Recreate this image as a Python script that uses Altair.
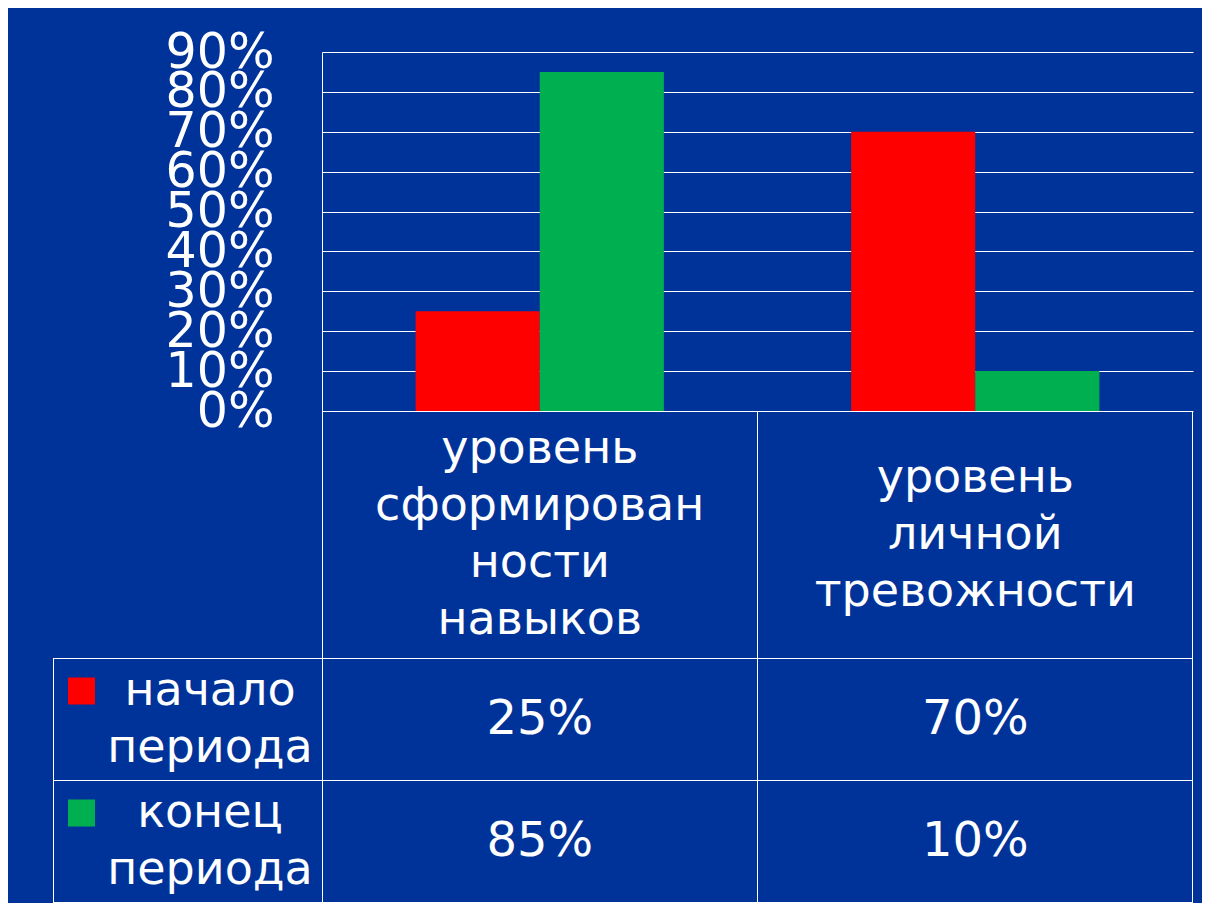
import altair as alt
import pandas as pd

# ---- data ----
categories = ["уровень сформированности навыков", "уровень личной тревожности"]
category_lines = ["уровень|сформирован|ности|навыков", "уровень|личной|тревожности"]
series = ["начало периода", "конец периода"]
start_values = [0.25, 0.70]
end_values = [0.85, 0.10]
y_ticks = [0.0, 0.1, 0.2, 0.3, 0.4, 0.5, 0.6, 0.7, 0.8, 0.9]
colors = ["#FF0000", "#00B050"]

rows = []
for i, cat in enumerate(categories):
    for s, vals in zip(series, [start_values, end_values]):
        rows.append({"cat": cat, "lines_str": category_lines[i], "series": s, "value": vals[i]})
df = pd.DataFrame(rows)

# ---- styles / layout (pixels relative to plot origin) ----
BG = "#003399"
FONT = "DejaVu Sans"
FS_AXIS = 49
FS_VAL = 48
FS_TXT = 46
LH = 57
W, H = 871, 359
LEFT_COL = -269
HEADER_BOTTOM = 606.5
ROW_LINES = [728.5, 850.5]
ROW_CENTERS = [667.5, 789.5]
BAND_STEP = W / 2.0

x_enc = alt.X("cat:N", sort=categories,
              scale=alt.Scale(paddingInner=0.43, paddingOuter=0.215), axis=None)
color_enc = alt.Color("series:N", sort=series,
                      scale=alt.Scale(domain=series, range=colors), legend=None)

base = alt.Chart(df)

bars = base.mark_bar().encode(
    x=x_enc,
    xOffset=alt.XOffset("series:N", sort=series,
                        scale=alt.Scale(paddingInner=0, paddingOuter=0)),
    y=alt.Y("value:Q",
            scale=alt.Scale(domain=[0, 0.9], nice=False, zero=True),
            axis=alt.Axis(values=y_ticks, format=".0%", title=None,
                          ticks=False, tickSize=0, labelPadding=48,
                          labelFont=FONT, labelFontSize=FS_AXIS, labelColor="white",
                          labelOverlap=False, labelFlush=False, labelBound=False,
                          domainColor="white", domainWidth=1,
                          gridColor="white", gridWidth=1, gridOpacity=1)),
    color=color_enc,
)

layers = [bars]

# category header texts (multi-line, block centred in the header cell)
header_center = (H + HEADER_BOTTOM) / 2
for i, cat in enumerate(categories):
    n_lines = len(category_lines[i].split("|"))
    layers.append(
        base.transform_filter((alt.datum.series == series[0]) & (alt.datum.cat == cat))
        .transform_calculate(lines="split(datum.lines_str, '|')")
        .mark_text(font=FONT, fontSize=FS_TXT, lineHeight=LH, color="white",
                   align="center", baseline="middle")
        .encode(x=x_enc,
                y=alt.value(header_center - (n_lines - 1) / 2 * LH),
                text="lines:N")
    )

for j, s in enumerate(series):
    sub = base.transform_filter(alt.datum.series == s)
    layers.append(sub.mark_text(font=FONT, fontSize=FS_VAL, color="white",
                                align="center", baseline="middle").encode(
        x=x_enc,
        y=alt.value(ROW_CENTERS[j]),
        text=alt.Text("value:Q", format=".0%"),
    ))
    leg = sub.transform_filter(alt.datum.cat == categories[0]).transform_calculate(
        lines="split(datum.series, ' ')")
    layers.append(leg.mark_text(font=FONT, fontSize=FS_TXT, lineHeight=LH, color="white",
                                align="center", baseline="middle").encode(
        x=alt.value(-112),
        y=alt.value(ROW_CENTERS[j] - LH / 2),
        text="lines:N",
    ))
    layers.append(leg.mark_square(size=729, opacity=1, filled=True).encode(
        x=alt.value(-240.5),
        y=alt.value(ROW_CENTERS[j] - LH / 2),
        color=color_enc,
    ))

one = alt.Chart(pd.DataFrame({"k": [0]}))


def hrule(y, x1, x2):
    return one.mark_rule(color="white", strokeWidth=1).encode(
        x=alt.value(x1), x2=alt.value(x2), y=alt.value(y))


def vrule(x, y1, y2):
    return one.mark_rule(color="white", strokeWidth=1).encode(
        x=alt.value(x), y=alt.value(y1), y2=alt.value(y2))


layers.append(hrule(HEADER_BOTTOM, LEFT_COL, W))
for yl in ROW_LINES:
    layers.append(hrule(yl, LEFT_COL, W))
layers.append(vrule(LEFT_COL + 0.5, HEADER_BOTTOM, ROW_LINES[-1]))
layers.append(vrule(0.5, H, ROW_LINES[-1]))
layers.append(vrule(BAND_STEP, H, ROW_LINES[-1]))
layers.append(vrule(W - 0.5, H, ROW_LINES[-1]))

chart = alt.layer(*layers).properties(
    width=W, height=H,
    background=BG,
    padding={"left": 314, "top": 44, "right": 9, "bottom": 492},
    autosize=alt.AutoSizeParams(type="none"),
).configure_view(strokeOpacity=0)

chart.save("out.html", embed_options={"renderer": "svg", "actions": False})
